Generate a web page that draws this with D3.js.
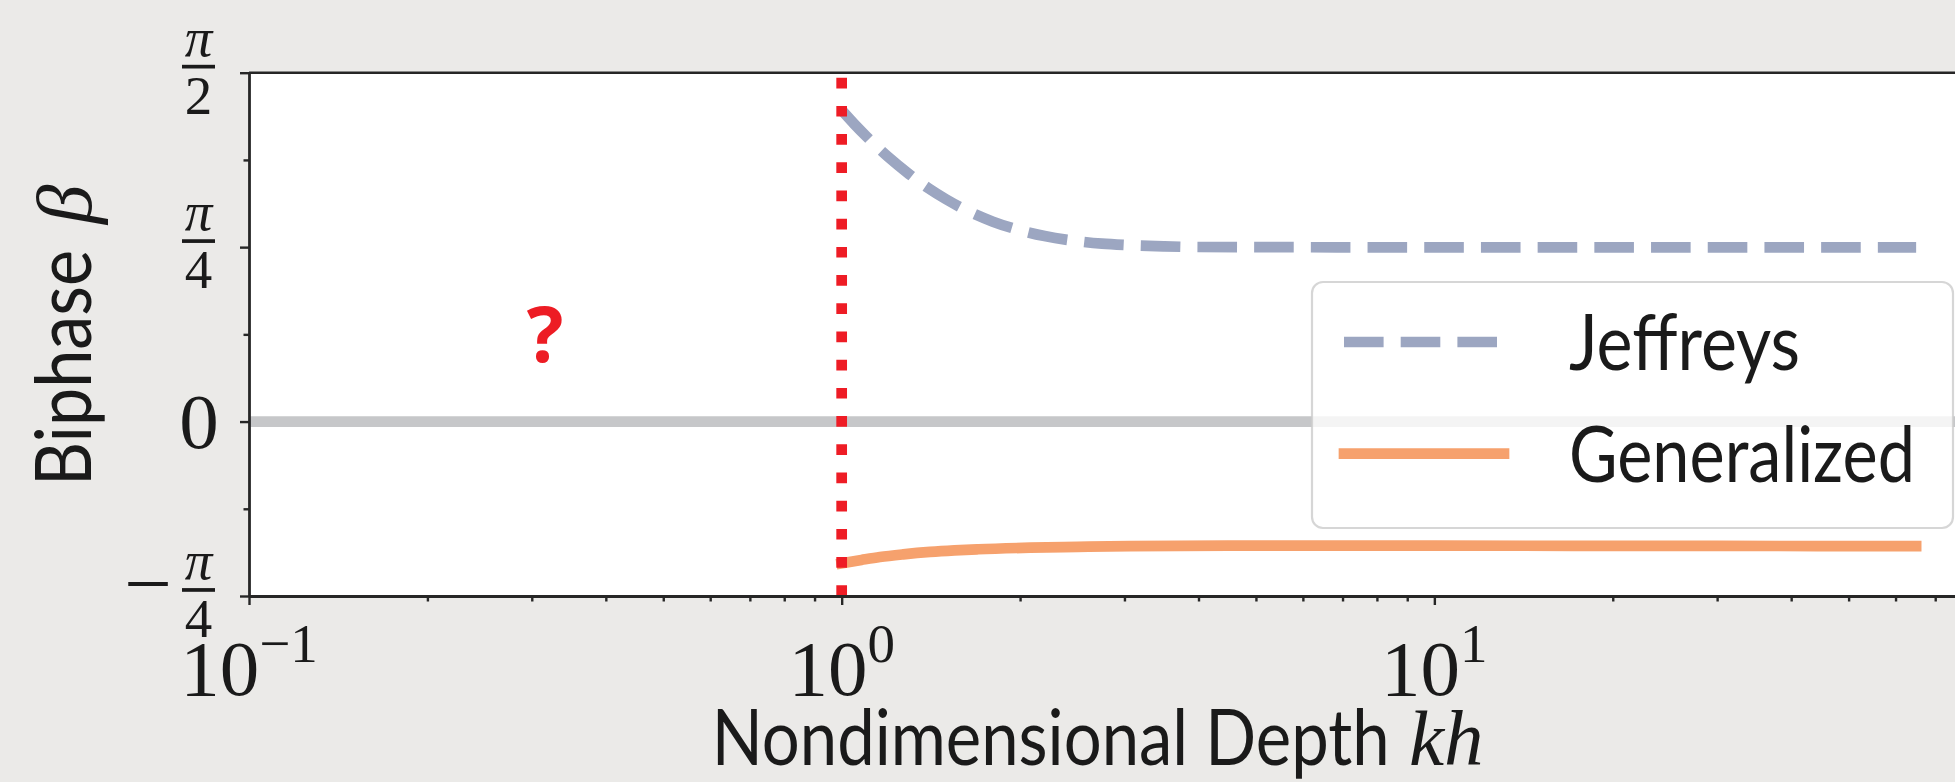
<!DOCTYPE html>
<html>
<head>
<meta charset="utf-8">
<script src="https://cdn.jsdelivr.net/npm/d3@7"></script>
<style>
  body { margin: 0; background: #ebeae8; overflow: hidden; }
</style>
</head>
<body>
<div id="chart"></div>
<script>
// values
var jeffKh   = [1.0, 1.05, 1.1, 1.2, 1.3, 1.4, 1.5, 1.6, 1.8, 2.0, 2.2, 2.45, 2.75, 3.0, 3.5, 4.0, 6.0, 10, 20, 40, 65];
var jeffBeta = [1.402, 1.340, 1.285, 1.190, 1.114, 1.051, 1.001, 0.960, 0.900, 0.861, 0.835, 0.815, 0.801, 0.795, 0.789, 0.786, 0.785, 0.784, 0.784, 0.784, 0.784];
var genKh    = [1.0, 1.08, 1.16, 1.27, 1.41, 1.55, 1.7, 2.08, 2.5, 3.07, 4.5, 10, 30, 65];
var genBeta  = [-0.638, -0.623, -0.610, -0.598, -0.587, -0.580, -0.575, -0.568, -0.564, -0.561, -0.559, -0.559, -0.560, -0.561];
var seriesNames = ["Jeffreys", "Generalized"];

var xTicks = [0.1, 1, 10];
var xTickExp = ["\u22121", "0", "1"];
var xMinor = [0.2, 0.3, 0.4, 0.5, 0.6, 0.7, 0.8, 0.9, 2, 3, 4, 5, 6, 7, 8, 9, 20, 30, 40, 50, 60, 70, 80];
var yTicks = [-Math.PI / 4, 0, Math.PI / 4, Math.PI / 2];
var yTickLabels = ["\u2212\u03c0/4", "0", "\u03c0/4", "\u03c0/2"];
var yMinor = [-Math.PI / 8, Math.PI / 8, 3 * Math.PI / 8];
var cutoffKh = 1;           // red dotted line
var markKh = 0.316, markBeta = Math.PI / 8;   // "?" annotation

var W = 1955, H = 782;
var plotL = 249, plotR = 1975, plotT = 72.7, plotB = 596;

var serif = "'Liberation Serif', 'DejaVu Serif', serif";
var sans = "Lato, 'Open Sans', sans-serif";
var ink = "#262626";

var x = d3.scaleLog().domain([0.1, 81.7]).range([plotL, plotR]);
var y = d3.scaleLinear().domain([-Math.PI / 4, Math.PI / 2]).range([plotB, plotT]);

var svg = d3.select("#chart").append("svg")
    .attr("width", W)
    .attr("height", H);

svg.append("rect").attr("width", W).attr("height", H).attr("fill", "#ebeae8");

svg.append("defs").append("clipPath").attr("id", "plot")
  .append("rect")
    .attr("x", plotL).attr("y", plotT)
    .attr("width", plotR - plotL).attr("height", plotB - plotT);

svg.append("rect")
    .attr("x", plotL).attr("y", plotT)
    .attr("width", plotR - plotL).attr("height", plotB - plotT)
    .attr("fill", "#ffffff");

var plot = svg.append("g").attr("clip-path", "url(#plot)");

// zero line
plot.append("line")
    .attr("x1", plotL).attr("x2", plotR)
    .attr("y1", y(0)).attr("y2", y(0))
    .attr("stroke", "#c6c7c9")
    .attr("stroke-width", 10.7);

var line = d3.line()
    .x(function(d) { return x(d[0]); })
    .y(function(d) { return y(d[1]); })
    .curve(d3.curveMonotoneX);

var jeff = d3.zip(jeffKh, jeffBeta);
var gen = d3.zip(genKh, genBeta);

plot.append("path")
    .datum(jeff)
    .attr("d", line)
    .attr("fill", "none")
    .attr("stroke", "#9ca6c1")
    .attr("stroke-width", 10.7)
    .attr("stroke-dasharray", "39.6 17.1");

plot.append("path")
    .datum(gen)
    .attr("d", line)
    .attr("fill", "none")
    .attr("stroke", "#f6a16d")
    .attr("stroke-width", 10.7)
    .attr("stroke-linecap", "square");

// dotted cutoff, drawn from the bottom up
plot.append("line")
    .attr("x1", x(cutoffKh)).attr("x2", x(cutoffKh))
    .attr("y1", y(-Math.PI / 4)).attr("y2", y(Math.PI / 2))
    .attr("stroke", "#ee1c25")
    .attr("stroke-width", 10.7)
    .attr("stroke-dasharray", "10.7 17.5");

// question mark
svg.append("text")
    .attr("x", x(markKh))
    .attr("y", y(markBeta) + 27.7)
    .attr("text-anchor", "middle")
    .attr("font-family", "'Open Sans', sans-serif")
    .attr("font-weight", "bold")
    .attr("font-size", 77)
    .attr("fill", "#ed1c24")
    .text("?");

// axes
svg.append("g")
    .attr("transform", "translate(0," + plotB + ")")
    .call(d3.axisBottom(x).tickValues(xTicks).tickSize(9).tickSizeOuter(0).tickFormat(""));
svg.append("g")
    .attr("transform", "translate(0," + plotB + ")")
    .call(d3.axisBottom(x).tickValues(xMinor).tickSize(5.5).tickSizeOuter(0).tickFormat(""))
    .select(".domain").remove();

svg.append("g")
    .attr("transform", "translate(" + plotL + ",0)")
    .call(d3.axisLeft(y).tickValues(yTicks).tickSize(9).tickSizeOuter(0).tickFormat(""));
svg.append("g")
    .attr("transform", "translate(" + plotL + ",0)")
    .call(d3.axisLeft(y).tickValues(yMinor).tickSize(5.5).tickSizeOuter(0).tickFormat(""))
    .select(".domain").remove();

svg.selectAll(".domain").attr("stroke", ink).attr("stroke-width", 2.8);
svg.selectAll(".tick line").attr("stroke", ink).attr("stroke-width", 2.4);

// top spine
svg.append("line")
    .attr("x1", plotL).attr("x2", plotR)
    .attr("y1", plotT).attr("y2", plotT)
    .attr("stroke", ink).attr("stroke-width", 2.4);

// x tick labels 10^n
xTicks.forEach(function(v, i) {
  var t = svg.append("text")
      .attr("x", x(v))
      .attr("y", 695)
      .attr("text-anchor", "middle")
      .attr("font-family", serif)
      .attr("font-size", 79)
      .attr("fill", "#1a1a1a");
  t.append("tspan").text("10");
  t.append("tspan").attr("dy", -33).attr("font-size", 55).text(xTickExp[i]);
});

// y tick labels as stacked fractions
yTicks.forEach(function(v, i) {
  var T = y(v);
  var lab = yTickLabels[i];
  var g = svg.append("g").attr("fill", "#1a1a1a").attr("font-family", serif);
  if (lab.indexOf("/") < 0) {
    g.append("text")
        .attr("x", 199).attr("y", T + 26)
        .attr("text-anchor", "middle")
        .attr("font-size", 79)
        .text(lab);
    return;
  }
  var neg = lab.charAt(0) === "\u2212";
  var parts = (neg ? lab.slice(1) : lab).split("/");
  if (neg) {
    g.append("text")
        .attr("x", 124).attr("y", T + 14)
        .attr("font-size", 79)
        .attr("textLength", 48)
        .attr("lengthAdjust", "spacingAndGlyphs")
        .text("\u2212");
  }
  g.append("text")
      .attr("x", 198.5).attr("y", T - 16.7)
      .attr("text-anchor", "middle")
      .attr("font-size", 55)
      .attr("font-style", "italic")
      .text(parts[0]);
  g.append("rect")
      .attr("x", 182).attr("y", T - 7.9)
      .attr("width", 33).attr("height", 3.7);
  g.append("text")
      .attr("x", 198.5).attr("y", T + 41.3)
      .attr("text-anchor", "middle")
      .attr("font-size", 55)
      .text(parts[1]);
});

// axis labels
svg.append("text")
    .attr("x", 711.7).attr("y", 765)
    .attr("font-family", sans).attr("font-size", 77)
    .attr("textLength", 678).attr("lengthAdjust", "spacingAndGlyphs")
    .attr("fill", "#1a1a1a")
    .text("Nondimensional Depth");
svg.append("text")
    .attr("x", 1409).attr("y", 765)
    .attr("font-family", serif).attr("font-style", "italic").attr("font-size", 79)
    .attr("fill", "#1a1a1a")
    .text("kh");

var yl = svg.append("g").attr("transform", "translate(91,484) rotate(-90)");
yl.append("text")
    .attr("x", -2).attr("y", 0)
    .attr("font-family", sans).attr("font-size", 77)
    .attr("textLength", 236).attr("lengthAdjust", "spacingAndGlyphs")
    .attr("fill", "#1a1a1a")
    .text("Biphase");
yl.append("text")
    .attr("x", 260).attr("y", 0)
    .attr("font-family", serif).attr("font-style", "italic").attr("font-size", 79)
    .attr("fill", "#1a1a1a")
    .text("\u03b2");

// legend
var lg = svg.append("g");
lg.append("rect")
    .attr("x", 1312).attr("y", 282)
    .attr("width", 641).attr("height", 246)
    .attr("rx", 11)
    .attr("fill", "#ffffff").attr("fill-opacity", 0.8)
    .attr("stroke", "#cccccc").attr("stroke-opacity", 0.8)
    .attr("stroke-width", 2.2);
lg.append("line")
    .attr("x1", 1344).attr("x2", 1504).attr("y1", 342).attr("y2", 342)
    .attr("stroke", "#9ca6c1").attr("stroke-width", 10.7)
    .attr("stroke-dasharray", "39.6 17.1");
lg.append("line")
    .attr("x1", 1344).attr("x2", 1504).attr("y1", 453.7).attr("y2", 453.7)
    .attr("stroke", "#f6a16d").attr("stroke-width", 10.7)
    .attr("stroke-linecap", "square");
var legW = [231, 346];
var legY = [370, 481.7];
seriesNames.forEach(function(n, i) {
  lg.append("text")
      .attr("x", 1569).attr("y", legY[i])
      .attr("font-family", sans).attr("font-size", 77)
      .attr("textLength", legW[i]).attr("lengthAdjust", "spacingAndGlyphs")
      .attr("fill", "#1a1a1a")
      .text(n);
});
</script>
</body>
</html>
